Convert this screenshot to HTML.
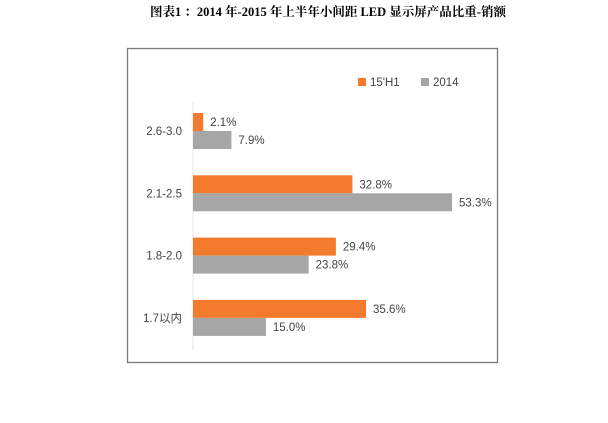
<!DOCTYPE html>
<html><head><meta charset="utf-8"><style>
body{margin:0;background:#fff;width:608px;height:418px;overflow:hidden;font-family:"Liberation Sans","Noto Sans CJK SC",sans-serif}
</style></head><body>
<svg width="608" height="418">
<text x="328" y="16" text-anchor="middle" font-family="Liberation Serif,'Noto Serif CJK SC',serif" font-weight="bold" font-size="12.5" fill="#000">图表1 ：2014 年-2015 年上半年小间距 LED 显示屏产品比重-销额</text>
<rect x="127.5" y="48.5" width="370" height="314" fill="#fff" stroke="#7a7a7a" stroke-width="1.3"/>
<line x1="193" y1="102" x2="193" y2="350" stroke="#e4e4e4"/>
<rect x="358" y="78" width="8" height="8" fill="#f47b2e"/>
<text x="370" y="86" font-size="11.5" fill="#444">15'H1</text>
<rect x="421" y="78" width="8" height="8" fill="#a6a6a6"/>
<text x="433" y="86" font-size="11.5" fill="#444">2014</text>
<g id="bars"></g>
</svg>
<script>
const categories=["2.6-3.0","2.1-2.5","1.8-2.0","1.7以内"];
const s15H1=[2.1,32.8,29.4,35.6];
const s2014=[7.9,53.3,23.8,15.0];
const x0=193,pxPer=4.86,barH=18;
const xScale=v=>x0+v*pxPer;
const yMid=i=>131+i*62.3;
const g=document.getElementById('bars');
const ns='http://www.w3.org/2000/svg';
function mk(t,a){const e=document.createElementNS(ns,t);for(const k in a)e.setAttribute(k,a[k]);g.appendChild(e);return e;}
categories.forEach((c,i)=>{
  const m=yMid(i);
  const t=mk('text',{x:182,y:m+4,'text-anchor':'end','font-size':11.5,fill:'#444'});t.textContent=c;
  
  
  [[s15H1,'#f47b2e',m-barH,'bar-15h1'],[s2014,'#a6a6a6',m,'bar-2014']].forEach(([s,col,y,n])=>{
    const r=mk('rect',{x:x0,y:y,width:xScale(s[i])-x0,height:barH,fill:col});
    
    
    const l=mk('text',{x:xScale(s[i])+7,y:y+13,'font-size':11.5,fill:'#444'});l.textContent=s[i].toFixed(1)+'%';
    
    
  });
});
</script>
</body></html>
